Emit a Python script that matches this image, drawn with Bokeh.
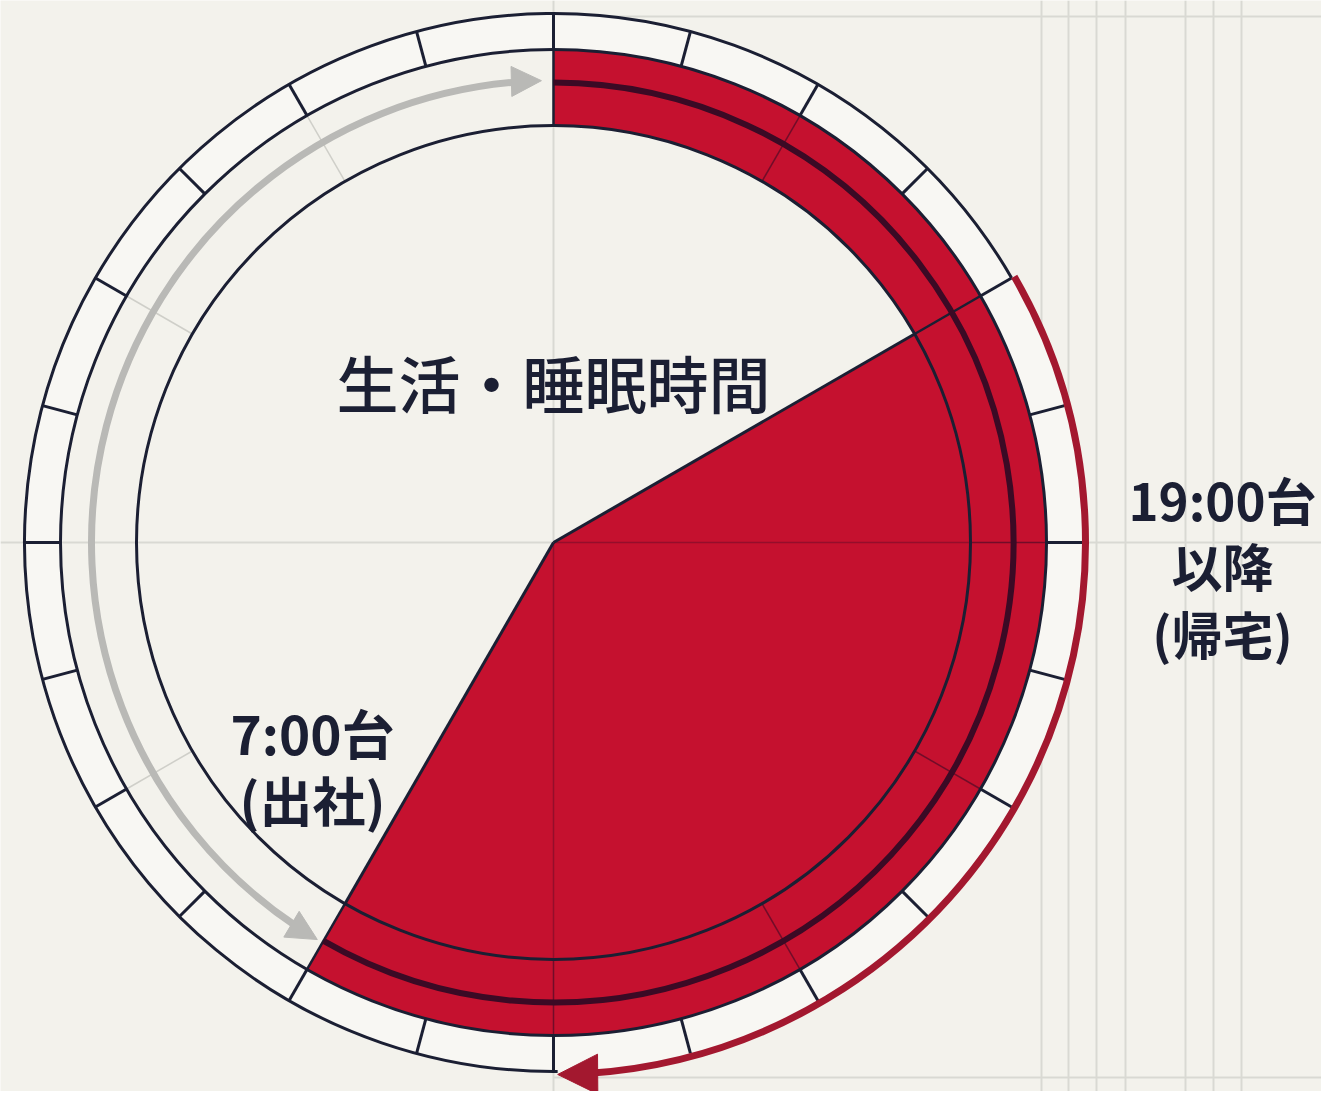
import numpy as np
from bokeh.plotting import figure
from bokeh.models import Range1d, Arrow, NormalHead
from bokeh.embed import file_html
from bokeh.resources import INLINE
from bokeh.core.properties import value

# ---------------- data (dial of 24 slots, 15 degrees each, clockwise from top) ----------------
dial_slots = 24
tick_slots = list(range(24))
band_span = [0, 14]            # outer red band
pie_span = [4, 14]             # inner red pie
band_grid_slots = [2, 6, 8, 10, 12]
band_edge_slots = [0, 4, 14]
free_grid_slots = [16, 20, 22]
pie_grid_slots = [6, 12]
gray_arrow_span = [14.05, 23.9]
red_arrow_span = [4, 11.97]
title_text = ["生活・睡眠時間"]
left_label = ["7:00台", "(出社)"]
right_label = ["19:00台", "以降", "(帰宅)"]

# ---------------- layout ----------------
W, H = 1321, 1091
def px(x):
    return x
def py(y):
    return H - y

CX, CY = px(553), py(542)
R1, R2, RN, R3 = 529, 493, 460, 417
RG, RR = 462, 532

BG = "#f3f2ec"
RING = "#f8f7f3"
RED = "#c5112f"
NAVY = "#1b1f33"
DARK = "#3b0a25"
GRAY = "#b9b9b6"
ARED = "#a3182f"
GRID = "#d9d9d3"
FONT = value("Noto Sans CJK JP")
FONT_MED = value("Noto Sans CJK JP Medium, Noto Sans CJK JP")


def ang(slot):
    return np.deg2rad(90 - slot * 360 / dial_slots)


def pt(slot, r):
    a = ang(slot)
    return CX + r * np.cos(a), CY + r * np.sin(a)


def cw_dir(slot):
    t = np.deg2rad(slot * 360 / dial_slots)
    return np.cos(t), -np.sin(t)


p = figure(width=W, height=H, x_range=Range1d(0, W), y_range=Range1d(0, H),
           output_backend="svg", toolbar_location=None,
           x_axis_type=None, y_axis_type=None, min_border=0)
p.grid.visible = False
p.outline_line_color = None
p.background_fill_color = BG
p.border_fill_color = BG

# background grid
gx = [553, 1041, 1068, 1096, 1125, 1185, 1213, 1241]
p.segment(x0=[px(v) for v in gx], y0=[py(0)] * len(gx), x1=[px(v) for v in gx], y1=[py(1099)] * len(gx),
          line_color=GRID, line_width=2)
p.segment(x0=[px(0), px(553), px(553)], y0=[py(542), py(16), py(1077)],
          x1=[px(1329), px(1329), px(1329)], y1=[py(542), py(16), py(1077)],
          line_color=GRID, line_width=2)

# tick ring fill
p.annulus(x=[CX], y=[CY], inner_radius=R2, outer_radius=R1, fill_color=RING, line_color=None)

# red band and pie
p.annular_wedge(x=[CX], y=[CY], inner_radius=R3, outer_radius=R2,
                start_angle=ang(band_span[0]), end_angle=ang(band_span[1]), direction="clock",
                fill_color=RED, line_color=None)
p.wedge(x=[CX], y=[CY], radius=R3, start_angle=ang(pie_span[0]), end_angle=ang(pie_span[1]),
        direction="clock", fill_color=RED, line_color=None)

# faint grid radials in the free band
fx0, fy0 = zip(*[pt(s, R3) for s in free_grid_slots])
fx1, fy1 = zip(*[pt(s, R2) for s in free_grid_slots])
p.segment(x0=list(fx0), y0=list(fy0), x1=list(fx1), y1=list(fy1), line_color="#cfcfc9", line_width=1.5)

# grid through pie
gx0, gy0 = zip(*[pt(s, 0) for s in pie_grid_slots])
gx1, gy1 = zip(*[pt(s, R3) for s in pie_grid_slots])
p.segment(x0=list(gx0), y0=list(gy0), x1=list(gx1), y1=list(gy1), line_color=DARK, line_alpha=0.35,
          line_width=1.5)

# radials in red band
bx0, by0 = zip(*[pt(s, R3) for s in band_grid_slots])
bx1, by1 = zip(*[pt(s, R2) for s in band_grid_slots])
p.segment(x0=list(bx0), y0=list(by0), x1=list(bx1), y1=list(by1), line_color=DARK, line_alpha=0.6,
          line_width=1.5)
ex0, ey0 = zip(*[pt(s, R3) for s in band_edge_slots])
ex1, ey1 = zip(*[pt(s, R2) for s in band_edge_slots])
p.segment(x0=list(ex0), y0=list(ey0), x1=list(ex1), y1=list(ey1), line_color=NAVY, line_width=2.5)

# navy line inside band
p.arc(x=[CX], y=[CY], radius=RN, start_angle=ang(band_span[0]), end_angle=ang(band_span[1]),
      direction="clock", line_color=DARK, line_width=6)

# circles
p.circle(x=[CX], y=[CY], radius=R3, fill_color=None, line_color=NAVY, line_width=3)
p.circle(x=[CX], y=[CY], radius=R2, fill_color=None, line_color=NAVY, line_width=3)
p.arc(x=[CX], y=[CY], radius=R1, start_angle=ang(red_arrow_span[1]), end_angle=ang(red_arrow_span[0]),
      direction="clock", line_color=NAVY, line_width=3)

# ticks
tx0, ty0 = zip(*[pt(s, R2) for s in tick_slots])
tx1, ty1 = zip(*[pt(s, R1) for s in tick_slots])
p.segment(x0=list(tx0), y0=list(ty0), x1=list(tx1), y1=list(ty1), line_color=NAVY, line_width=3)

# pie edges
px0, py0 = zip(*[pt(s, 0) for s in pie_span])
px1, py1 = zip(*[pt(s, R3) for s in pie_span])
p.segment(x0=list(px0), y0=list(py0), x1=list(px1), y1=list(py1), line_color=NAVY, line_width=3)

# gray double-headed arrow
g_head = 30
g_pad = np.rad2deg(g_head * 0.8 / RG) / 15
p.arc(x=[CX], y=[CY], radius=RG, start_angle=ang(gray_arrow_span[0] + g_pad),
      end_angle=ang(gray_arrow_span[1] - g_pad), direction="clock", line_color=GRAY, line_width=7)
tipx, tipy = pt(gray_arrow_span[1], RG)
dx, dy = cw_dir(gray_arrow_span[1])
p.add_layout(Arrow(end=NormalHead(size=g_head, fill_color=GRAY, line_color=GRAY),
                   x_start=tipx - 20 * dx, y_start=tipy - 20 * dy, x_end=tipx, y_end=tipy,
                   line_alpha=0))
tipx, tipy = pt(gray_arrow_span[0], RG)
dx, dy = cw_dir(gray_arrow_span[0])
p.add_layout(Arrow(end=NormalHead(size=g_head, fill_color=GRAY, line_color=GRAY),
                   x_start=tipx + 20 * dx, y_start=tipy + 20 * dy, x_end=tipx, y_end=tipy,
                   line_alpha=0))

# red arrow
r_head = 40
r_pad = np.rad2deg(r_head * 0.8 / RR) / 15
p.arc(x=[CX], y=[CY], radius=RR, start_angle=ang(red_arrow_span[0]),
      end_angle=ang(red_arrow_span[1] - r_pad), direction="clock", line_color=ARED, line_width=7)
tipx, tipy = pt(red_arrow_span[1], RR)
dx, dy = cw_dir(red_arrow_span[1])
p.add_layout(Arrow(end=NormalHead(size=r_head, fill_color=ARED, line_color=ARED),
                   x_start=tipx - 20 * dx, y_start=tipy - 20 * dy, x_end=tipx, y_end=tipy,
                   line_alpha=0))

# texts
p.text(x=[px(553)], y=[py(381)], text=title_text, text_font=FONT_MED, text_font_size="62px",
       text_align="center", text_baseline="middle", text_color=NAVY)
p.text(x=[px(312), px(312)], y=[py(731), py(798)], text=left_label, text_font=FONT,
       text_font_size="53px", text_font_style="bold", text_align="center", text_baseline="middle",
       text_color=NAVY)
p.text(x=[px(1222)] * 3, y=[py(498), py(564), py(632)], text=right_label, text_font=FONT,
       text_font_size="51px", text_font_style="bold", text_align="center", text_baseline="middle",
       text_color=NAVY)

open("out.html", "w").write(file_html(p, INLINE))
